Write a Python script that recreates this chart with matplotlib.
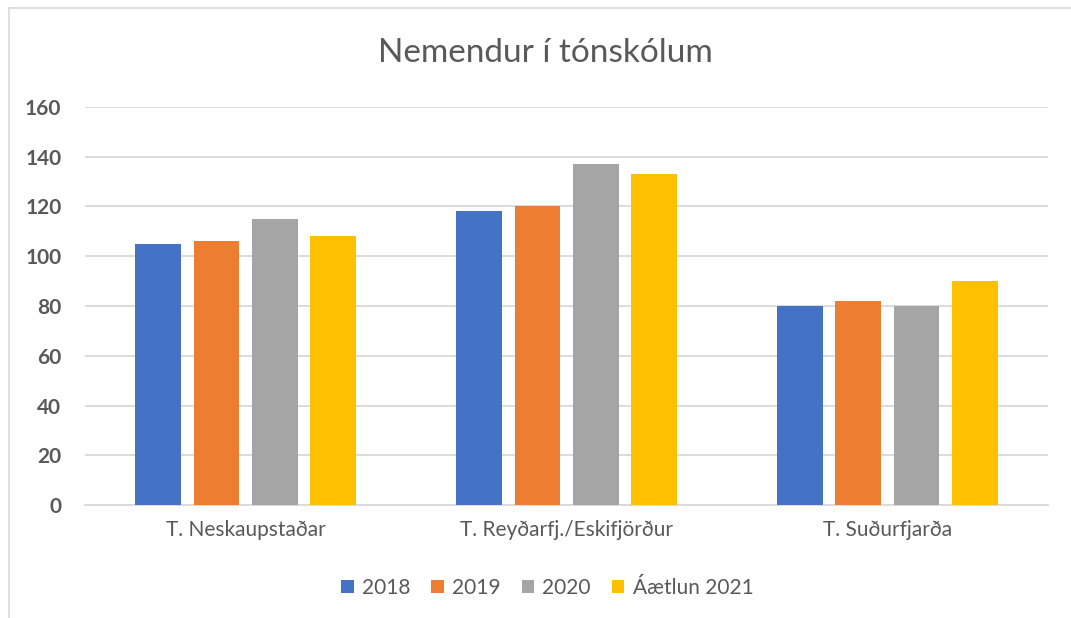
import numpy as np
import matplotlib
matplotlib.use("Agg")
import matplotlib.pyplot as plt
from matplotlib.patches import Patch
from matplotlib.lines import Line2D

# Nemendur í tónskólum
categories = ["T. Neskaupstaðar", "T. Reyðarfj./Eskifjörður", "T. Suðurfjarða"]
series_names = ["2018", "2019", "2020", "Áætlun 2021"]
vals_2018 = [105, 118, 80]
vals_2019 = [106, 120, 82]
vals_2020 = [115, 137, 80]
vals_2021 = [108, 133, 90]
y_ticks = [0, 20, 40, 60, 80, 100, 120, 140, 160]

COLORS = ["#4472C4", "#ED7D31", "#A5A5A5", "#FFC000"]
TEXT = "#595959"
GRID = "#D9D9D9"

plt.rcParams["font.family"] = ["Lato", "DejaVu Sans"]

fig = plt.figure(figsize=(10.71, 6.18), dpi=100)
ax = fig.add_axes([0.0794, 0.1828, 0.8991, 0.6441])

x = np.arange(len(categories))
width = 0.143
step = 0.181
offsets = [-1.5 * step, -0.5 * step, 0.5 * step, 1.5 * step]
all_vals = [vals_2018, vals_2019, vals_2020, vals_2021]
for vals, off, c in zip(all_vals, offsets, COLORS):
    ax.bar(x + off, vals, width=width, color=c, zorder=3)

ax.set_xlim(-0.5, len(categories) - 0.5)
ax.set_ylim(0, 160)
ax.set_yticks(y_ticks)
ax.set_yticklabels([str(t) for t in y_ticks], fontsize=15, fontweight="bold", color=TEXT)
ax.set_xticks(x)
ax.set_xticklabels(categories, fontsize=15, color=TEXT)
ax.tick_params(axis="y", length=0, pad=17)
ax.tick_params(axis="x", length=0, pad=11)
ax.grid(axis="y", color=GRID, linewidth=1.3, zorder=0)
for s in ["top", "right", "left"]:
    ax.spines[s].set_visible(False)
ax.spines["bottom"].set_color(GRID)
ax.spines["bottom"].set_linewidth(1.3)

fig.text(0.509, 0.915, "Nemendur í tónskólum", ha="center", va="center",
         fontsize=24, color=TEXT)

handles = [Patch(facecolor=c, edgecolor="none", label=n) for c, n in zip(COLORS, series_names)]
fig.legend(handles=handles, loc="center", bbox_to_anchor=(0.511, 0.049), ncol=4,
           frameon=False, fontsize=15, handlelength=0.6, handleheight=0.6,
           handletextpad=0.4, columnspacing=1.0, labelcolor=TEXT)

# chart frame (top and left edges visible in the crop)
fig.add_artist(Line2D([9 / 1071, 9 / 1071], [0, 1 - 8 / 618], transform=fig.transFigure,
                      color=GRID, linewidth=1.2))
fig.add_artist(Line2D([9 / 1071, 1], [1 - 8 / 618, 1 - 8 / 618], transform=fig.transFigure,
                      color=GRID, linewidth=1.2))

fig.savefig("out.png", dpi=100)
